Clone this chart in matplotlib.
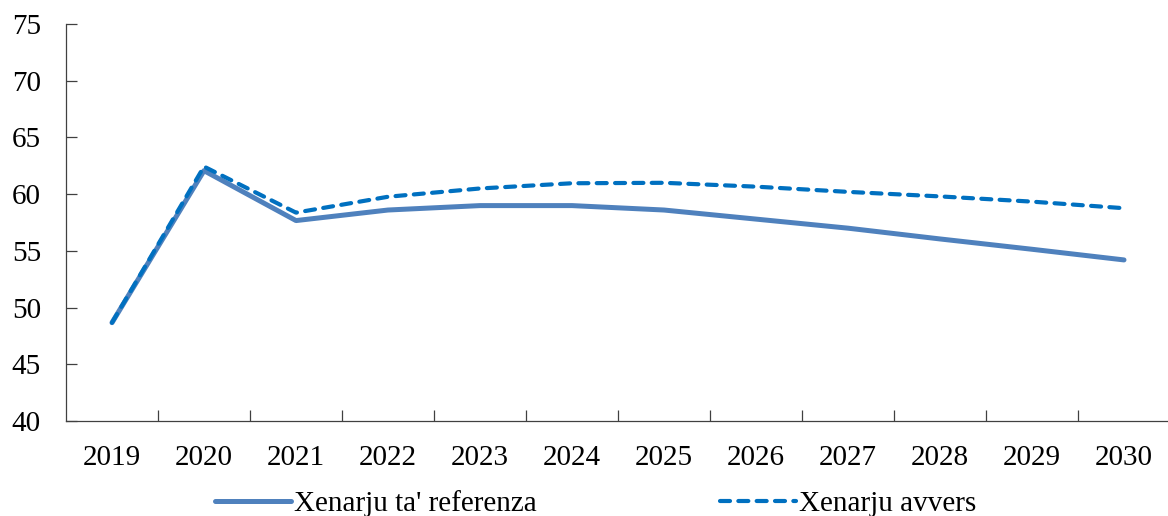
import matplotlib
matplotlib.use("Agg")
import matplotlib.pyplot as plt
import numpy as np

plt.rcParams['font.family'] = ['Liberation Serif', 'DejaVu Serif']

years = ['2019', '2020', '2021', '2022', '2023', '2024', '2025', '2026', '2027', '2028', '2029', '2030']
reference = [48.67, 62.07, 57.67, 58.6, 58.99, 58.99, 58.6, 57.8, 57.0, 56.05, 55.14, 54.2]
adverse = [48.67, 62.43, 58.37, 59.77, 60.5, 60.96, 61.0, 60.66, 60.2, 59.8, 59.34, 58.76]
label_ref = "Xenarju ta' referenza"
label_adv = "Xenarju avvers"

fig = plt.figure(figsize=(11.68, 5.16), dpi=100)
ax = fig.add_axes([66/1168, 1-421/516, (1170-66)/1168, (421-24)/516])

x = np.arange(len(years))
l1, = ax.plot(x, reference, color='#4F81BD', lw=3.6, solid_capstyle='round', label=label_ref, zorder=2)
l2, = ax.plot(x, adverse, color='#0070C0', lw=3.0, ls=(0, (2.4, 2.0)), dash_capstyle='round', label=label_adv, zorder=3)

ax.set_xlim(-0.5, len(years) - 0.5)
ax.set_ylim(40, 75)
ax.set_yticks(np.arange(40, 76, 5))
ax.set_xticks(x)
ax.set_xticklabels(years)
ax.set_xticks(np.arange(0.5, len(years) - 0.4, 1), minor=True)
ax.tick_params(axis='x', which='major', length=0, pad=17, labelsize=21)
ax.tick_params(axis='x', which='minor', direction='in', length=8, width=0.9, color='#404040')
ax.tick_params(axis='y', direction='in', length=8, width=0.9, color='#404040', labelsize=21, pad=18)
for s in ['top', 'right']:
    ax.spines[s].set_visible(False)
for s in ['left', 'bottom']:
    ax.spines[s].set_color('#404040')
    ax.spines[s].set_linewidth(0.9)

leg_kw = dict(loc='center left', frameon=False, fontsize=21, handlelength=2.6,
              handletextpad=0.1, borderpad=0, borderaxespad=0)
fig.legend(handles=[l1], bbox_to_anchor=(215/1168, 0.024), **leg_kw)
fig.legend(handles=[l2], bbox_to_anchor=(720/1168, 0.024), **leg_kw)

fig.savefig('out.png', dpi=100)
